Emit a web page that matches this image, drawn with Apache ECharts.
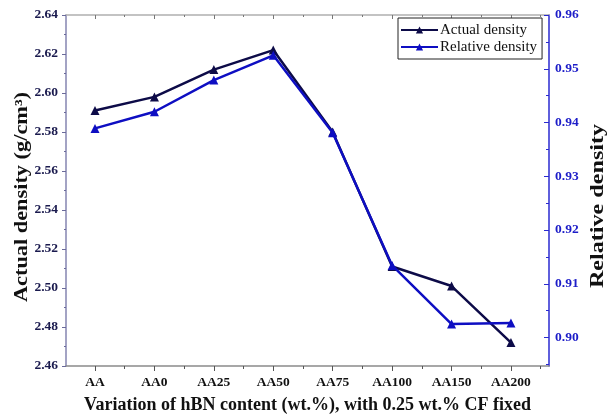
<!DOCTYPE html>
<html><head><meta charset="utf-8">
<script src="https://cdn.jsdelivr.net/npm/echarts@6/dist/echarts.min.js"></script>
<style>html,body{margin:0;padding:0;background:#fff}#c{width:613px;height:420px}</style>
</head><body><div id="c"></div>
<script>
var categories = ['AA','AA0','AA25','AA50','AA75','AA100','AA150','AA200'];
var actualDensity = [2.591, 2.598, 2.612, 2.622, 2.580, 2.511, 2.501, 2.472];
var relativeDensity = [0.9389, 0.942, 0.9479, 0.9525, 0.9381, 0.9134, 0.9025, 0.9027];
var leftTicks = [2.46, 2.64, 0.02];
var rightTickLabels = [0.90, 0.91, 0.92, 0.93, 0.94, 0.95, 0.96];
var rightMinorTicks = [0.895, 0.905, 0.915, 0.925, 0.935, 0.945, 0.955];

var darkC = '#0d0b48', blueC = '#0e0ec2';
var ff = '"Liberation Serif", "Times New Roman", serif';
var catIdx = categories.map(function(c,i){return i+1;});
var halfIdx = categories.map(function(c,i){return i+0.5;}).concat([8.5]);
function pts(arr){return arr.map(function(v,i){return [i+1,v];});}

var chart = echarts.init(document.getElementById('c'));
var xBase = {type:'value', min:0.512, max:8.64, splitLine:{show:false}};
chart.setOption({
  animation:false,
  grid:{left:66, right:64, top:15, bottom:54, containLabel:false, outerBoundsMode:'none'},
  legend:{
    orient:'vertical', left:398, top:18, width:146,
    backgroundColor:'#fff', borderColor:'#222', borderWidth:1, borderRadius:0,
    padding:[4,3,4,2], itemGap:1, itemWidth:37, itemHeight:9,
    textStyle:{fontFamily:ff, fontSize:15, color:'#111', padding:[0,2,0,-3], lineHeight:16},
    data:['Actual density','Relative density']
  },
  xAxis:[
    Object.assign({}, xBase, {position:'bottom',
      axisLine:{show:true, lineStyle:{color:'#8a8a8a', width:1.5}},
      axisTick:{show:true, customValues:catIdx, length:5, inside:false, lineStyle:{color:'#555'}},
      axisLabel:{show:true, customValues:catIdx, formatter:function(v){return categories[Math.round(v)-1]||'';},
        fontFamily:ff, fontWeight:'bold', fontSize:13.5, color:'#111', margin:10},
      name:'Variation of hBN content (wt.%), with 0.25 wt.% CF fixed', nameLocation:'middle', nameGap:30,
      nameTextStyle:{fontFamily:ff, fontWeight:'bold', fontSize:18, color:'#111'}}),
    Object.assign({}, xBase, {position:'bottom',
      axisLine:{show:false}, axisLabel:{show:false},
      axisTick:{show:true, customValues:halfIdx, length:3, lineStyle:{color:'#555'}}}),
    Object.assign({}, xBase, {position:'top',
      axisLine:{show:true, lineStyle:{color:'#b0b0b0', width:1.5}}, axisLabel:{show:false},
      axisTick:{show:true, customValues:catIdx, length:4, inside:true, lineStyle:{color:'#777'}}}),
    Object.assign({}, xBase, {position:'top',
      axisLine:{show:false}, axisLabel:{show:false},
      axisTick:{show:true, customValues:halfIdx, length:2, inside:true, lineStyle:{color:'#777'}}})
  ],
  yAxis:[
    {type:'value', position:'left', min:leftTicks[0], max:leftTicks[1], interval:leftTicks[2],
      splitLine:{show:false},
      axisLine:{show:true, lineStyle:{color:'#8484b0', width:1.5}},
      axisTick:{show:true, length:4, lineStyle:{color:'#6a6a9a'}},
      minorTick:{show:true, splitNumber:2, length:2, lineStyle:{color:'#6a6a9a'}},
      axisLabel:{formatter:function(v){return v.toFixed(2);}, fontFamily:ff, fontWeight:'bold', fontSize:13.5, color:'#1a1a4e', margin:8}},
    {type:'value', position:'right', min:0.8947, max:0.96,
      splitLine:{show:false},
      axisLine:{show:true, lineStyle:{color:'#2a2ad0', width:1.5}},
      axisTick:{show:true, inside:true, customValues:rightTickLabels, length:5, lineStyle:{color:'#2a2ad0'}},
      axisLabel:{customValues:rightTickLabels, formatter:function(v){return v.toFixed(2);}, fontFamily:ff, fontWeight:'bold', fontSize:13.5, color:'#1d1dc8', margin:6}},
    {type:'value', position:'right', min:0.8947, max:0.96,
      splitLine:{show:false}, axisLine:{show:false}, axisLabel:{show:false},
      axisTick:{show:true, inside:true, customValues:rightMinorTicks, length:3, lineStyle:{color:'#2a2ad0'}}}
  ],
  graphic:[
    {type:'text', x:22, y:197, rotation:Math.PI/2, scaleX:1.24, style:{text:'Actual density (g/cm³)', x:0, y:0, align:'center', verticalAlign:'middle', font:'bold 18px '+ff, fill:'#111'}},
    {type:'text', x:598, y:206, rotation:Math.PI/2, scaleX:1.34, style:{text:'Relative density', x:0, y:0, align:'center', verticalAlign:'middle', font:'bold 18px '+ff, fill:'#111'}}
  ],
  series:[
    {name:'Actual density', type:'line', xAxisIndex:0, yAxisIndex:0, data:pts(actualDensity),
      symbol:'triangle', symbolSize:9, itemStyle:{color:darkC}, lineStyle:{color:darkC, width:2.5}, z:3},
    {name:'Relative density', type:'line', xAxisIndex:0, yAxisIndex:1, data:pts(relativeDensity),
      symbol:'triangle', symbolSize:9, itemStyle:{color:blueC}, lineStyle:{color:blueC, width:2.5}, z:4}
  ]
});
</script></body></html>
